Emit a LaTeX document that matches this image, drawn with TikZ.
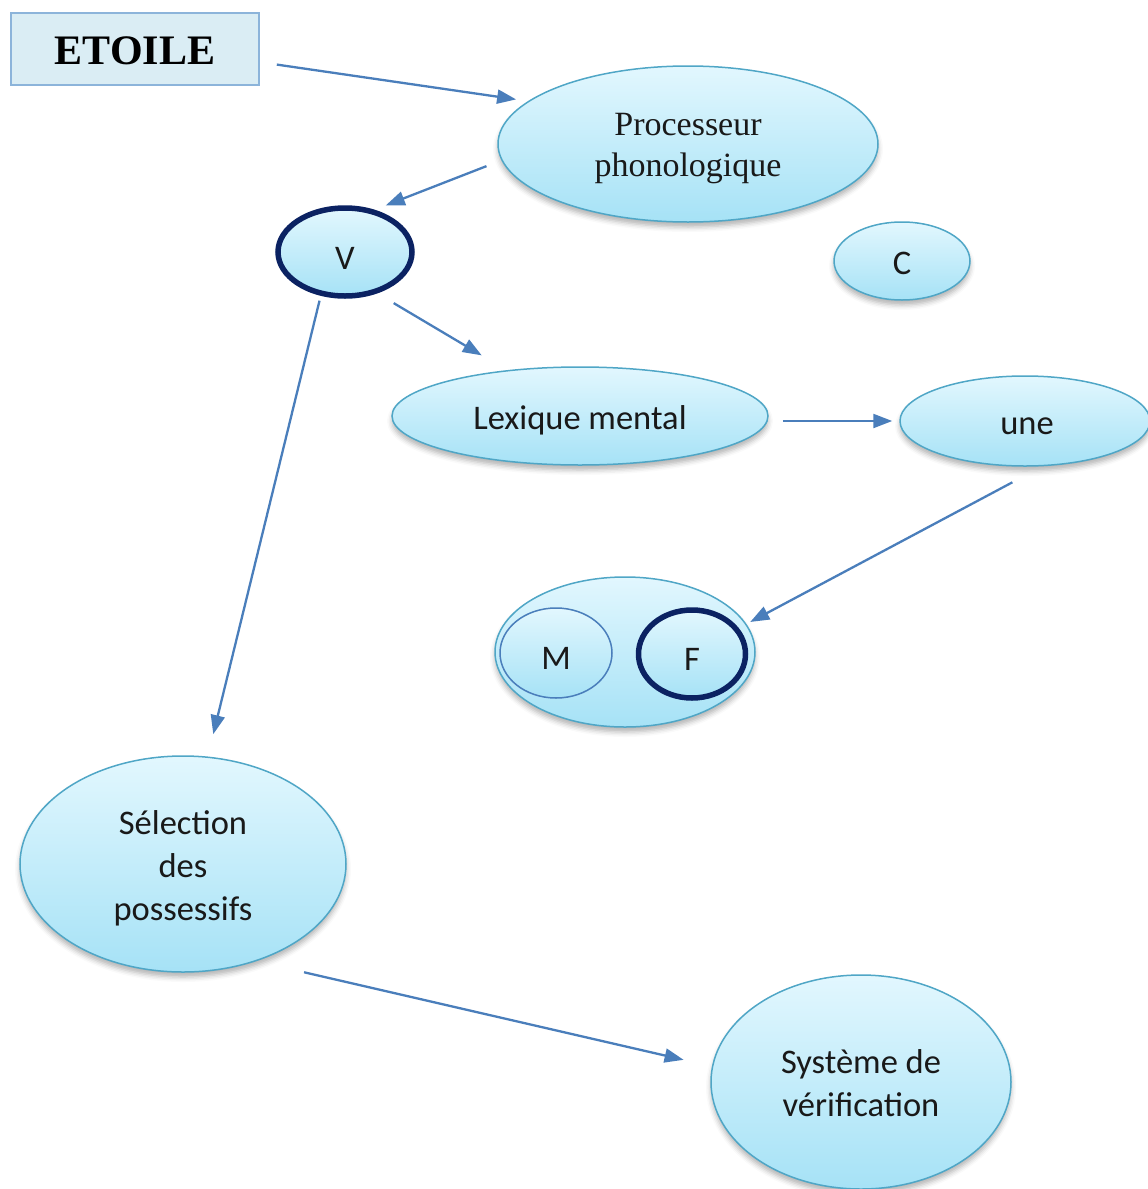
\documentclass[tikz,border=0pt]{standalone}
\usepackage{fontspec}
\setmainfont{Liberation Serif}
\newfontfamily\labelfont{Carlito}
\usetikzlibrary{shapes.geometric,arrows.meta,shadows.blur}

\definecolor{linkblue}{HTML}{4A7EBB}
\definecolor{bubbletop}{HTML}{E2F7FE}
\definecolor{bubblebot}{HTML}{A6E2F6}
\definecolor{bubbleedge}{HTML}{4FA6C6}
\definecolor{ringnavy}{HTML}{0B2262}
\definecolor{boxfill}{HTML}{DAEDF4}
\definecolor{boxedge}{HTML}{8CB4DA}

\tikzset{
  bubble/.style={ellipse, inner sep=0pt, top color=bubbletop, bottom color=bubblebot,
    draw=bubbleedge, line width=1.5pt},
  txt/.style={inner sep=0pt, text=black!90, align=center,
    font=\labelfont\fontsize{34.5}{43}\selectfont},
  softshadow/.style={blur shadow={shadow xshift=0pt, shadow yshift=-5pt,
    shadow blur radius=5pt, shadow opacity=30}},
  navyring/.style={draw=ringnavy, line width=5.5pt},
  thinring/.style={draw=linkblue, line width=1.5pt},
  link/.style={draw=linkblue, line width=2.3pt,
    -{Triangle[length=19pt,width=14pt]}}
}

\begin{document}
\begin{tikzpicture}[x=1pt,y=-1pt]
\useasboundingbox (0,0) rectangle (1148,1189);

% title box
\node[rectangle, fill=boxfill, draw=boxedge, line width=2pt,
      minimum width=248pt, minimum height=72pt, inner sep=0pt,
      label={[inner sep=0pt, font=\bfseries\fontsize{42}{48}\selectfont, yshift=-2pt]center:ETOILE}]
  (etoile) at (135,49) {};

% processing stages
\node[bubble, softshadow, minimum width=380pt, minimum height=156pt,
      label={[txt, font=\fontsize{34}{41}\selectfont, yshift=-5pt]center:Processeur\\phonologique}]
  (proc) at (688,144) {};

\node[bubble, navyring, minimum width=134pt, minimum height=88pt,
      label={[txt, yshift=-6pt]center:V}]
  (v) at (345,252) {};

\node[bubble, softshadow, minimum width=136pt, minimum height=78pt,
      label={[txt, yshift=-2pt]center:C}]
  (c) at (902,261) {};

\node[bubble, softshadow, minimum width=376pt, minimum height=98pt,
      label={[txt, yshift=-4pt]center:Lexique mental}]
  (lex) at (580,416) {};

\node[bubble, softshadow, minimum width=250pt, minimum height=90pt,
      label={[txt, yshift=-5pt, xshift=2pt]center:une}]
  (une) at (1025,421) {};

% gender container with M / F
\node[bubble, softshadow, minimum width=260pt, minimum height=150pt]
  (genre) at (625,652) {};
\node[bubble, thinring, minimum width=112pt, minimum height=90pt,
      label={[txt, yshift=-5pt]center:M}]
  (m) at (556,653) {};
\node[bubble, navyring, minimum width=107pt, minimum height=88pt,
      label={[txt, yshift=-5pt]center:F}]
  (f) at (692,654) {};

\node[bubble, softshadow, minimum width=326pt, minimum height=216pt,
      label={[txt, yshift=-4pt]center:Sélection\\des\\possessifs}]
  (sel) at (183,864) {};

\node[bubble, softshadow, minimum width=300pt, minimum height=214pt,
      label={[txt, yshift=-1pt]center:Système de\\vérification}]
  (verif) at (861,1082) {};

% connectors
\draw[link, shorten <=17pt, shorten >=12pt] (etoile.-6.6) -- (proc.165.6);
\draw[link, shorten <=16pt, shorten >=12pt] (proc.185.4) -- (v.55.4);
\draw[link, shorten <=5pt, shorten >=23pt] (v.241.1) -- (sel.77.1);
\draw[link, shorten <=19pt, shorten >=29pt] (v.-52.6) -- (lex.148.7);
\draw[link, shorten <=14pt, shorten >=7pt] (lex.east |- une.west) -- (une.west);
\draw[link, shorten <=34pt, shorten >=13pt] (une.-69.8) -- (f.29.1);
\draw[link, shorten <=49pt, shorten >=29pt] (sel.-53.7) -- (verif.174.1);
\end{tikzpicture}
\end{document}
